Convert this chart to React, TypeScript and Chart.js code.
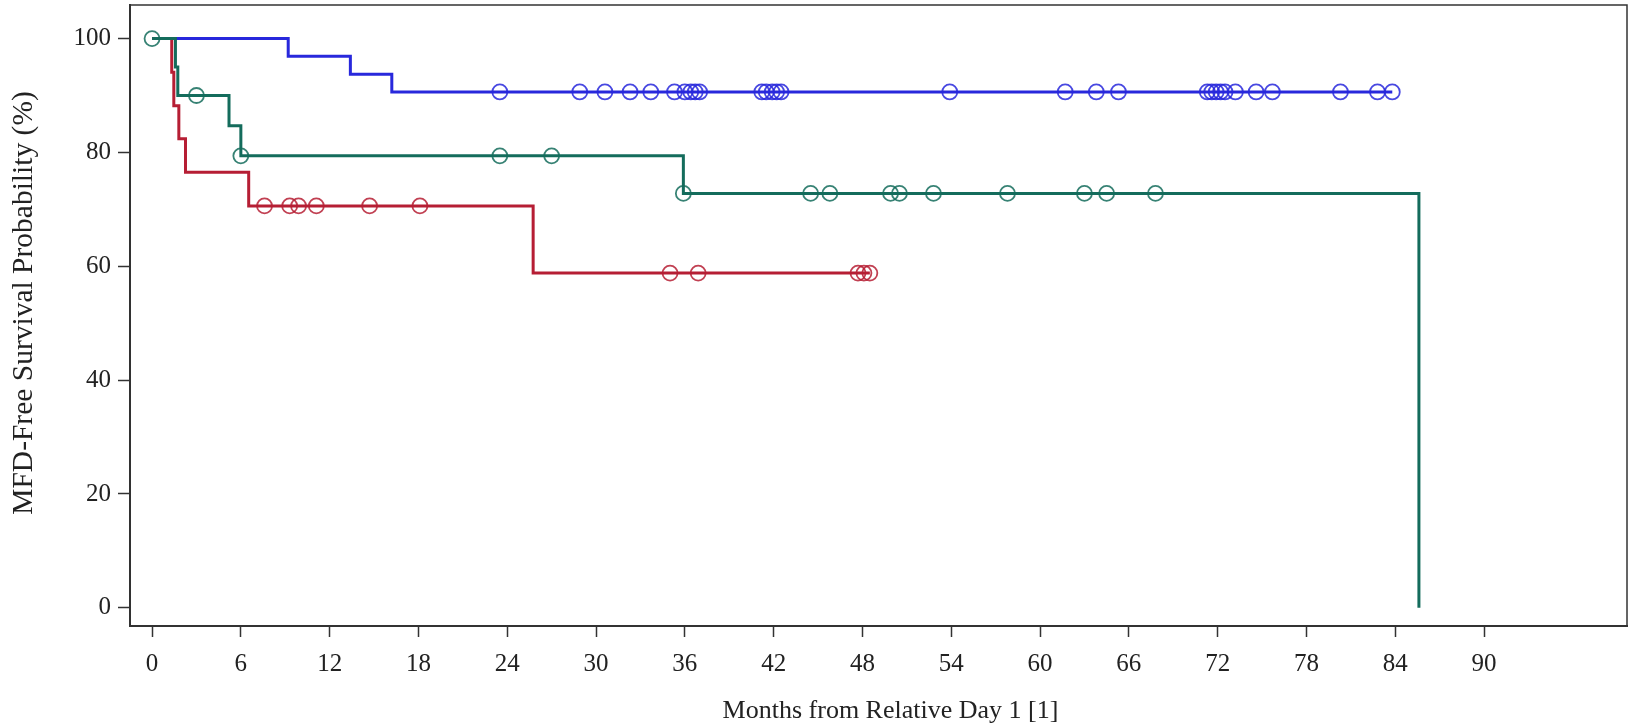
import React, { useEffect, useRef } from 'react';
import { Chart, registerables } from 'chart.js';

Chart.register(...registerables);

// Axis ticks
const xTickValues = [0, 6, 12, 18, 24, 30, 36, 42, 48, 54, 60, 66, 72, 78, 84, 90];
const yTickValues = [0, 20, 40, 60, 80, 100];
const xTitle = 'Months from Relative Day 1 [1]';
const yTitle = 'MFD-Free Survival Probability (%)';

// Blue group: step curve (time in months, survival %)
const blueStepTimes = [0, 9.2, 13.4, 16.2, 83.8];
const blueStepSurv = [100, 96.875, 93.75, 90.625, 90.625];
const blueCensorTimes = [
  23.5, 28.9, 30.6, 32.3, 33.7, 35.3, 36.0, 36.4, 36.7, 37.0,
  41.2, 41.5, 41.9, 42.2, 42.5, 53.9, 61.7, 63.8, 65.3,
  71.3, 71.6, 71.9, 72.2, 72.5, 73.2, 74.6, 75.7, 80.3, 82.8, 83.8,
];

// Red group
const redStepTimes = [0, 1.33, 1.47, 1.81, 2.26, 6.53, 25.75, 48.5];
const redStepSurv = [100, 94.1, 88.2, 82.4, 76.5, 70.6, 58.8, 58.8];
const redCensorTimes = [7.6, 9.3, 9.9, 11.1, 14.7, 18.1, 35.0, 36.9, 47.7, 48.1, 48.5];

// Green (teal) group
const greenStepTimes = [0, 1.58, 1.74, 5.2, 6.0, 35.9, 85.6];
const greenStepSurv = [100, 95, 90, 84.7, 79.4, 72.8, 0];
const greenCensorTimes = [0, 3.0, 6.0, 23.5, 27.0, 35.9, 44.5, 45.8, 49.9, 50.5, 52.8, 57.8, 63.0, 64.5, 67.8];

const BLUE = 'rgb(40,40,220)';
const RED = 'rgb(182,30,52)';
const GREEN = 'rgb(20,108,92)';
const BLUE_M = 'rgba(40,40,220,0.85)';
const RED_M = 'rgba(182,30,52,0.85)';
const GREEN_M = 'rgba(20,108,92,0.85)';

const FONT = "'Liberation Serif', 'Times New Roman', serif";

function stepPoints(times: number[], surv: number[]) {
  return times.map((t, i) => ({ x: t, y: surv[i] }));
}

function survAt(times: number[], surv: number[], t: number) {
  let v = surv[0];
  for (let i = 0; i < times.length; i++) {
    if (times[i] <= t + 1e-9) v = surv[i];
  }
  return v;
}

function censorPoints(times: number[], stepT: number[], stepS: number[]) {
  return times.map((t) => ({ x: t, y: survAt(stepT, stepS, t) }));
}

const framePlugin = {
  id: 'frame',
  beforeDatasetsDraw(chart: any) {
    const { ctx, chartArea: a } = chart;
    ctx.save();
    ctx.strokeStyle = '#333';
    ctx.lineWidth = 1.5;
    ctx.strokeRect(a.left, a.top, a.right - a.left, a.bottom - a.top);
    ctx.restore();
  },
  afterDraw(chart: any) {
    const { ctx, chartArea: a } = chart;
    ctx.save();
    ctx.fillStyle = '#222';
    ctx.textAlign = 'center';
    ctx.textBaseline = 'middle';
    ctx.font = `26px ${FONT}`;
    ctx.fillText(xTitle, (a.left + a.right) / 2 + 12, 711);
    ctx.translate(24, 303);
    ctx.rotate(-Math.PI / 2);
    ctx.font = `29.5px ${FONT}`;
    ctx.fillText(yTitle, 0, 0);
    ctx.restore();
  },
};

export default function App() {
  const ref = useRef<HTMLCanvasElement | null>(null);

  useEffect(() => {
    if (!ref.current) return;
    const lineDs = (label: string, data: any[], color: string) => ({
      type: 'line' as const,
      label,
      data,
      borderColor: color,
      backgroundColor: color,
      borderWidth: 3,
      pointRadius: 0,
      stepped: 'before' as const,
      fill: false,
      tension: 0,
    });
    const markDs = (label: string, data: any[], color: string) => ({
      type: 'scatter' as const,
      label,
      data,
      borderColor: color,
      backgroundColor: 'rgba(0,0,0,0)',
      borderWidth: 1.8,
      pointRadius: 7.5,
      pointStyle: 'circle',
      showLine: false,
    });

    const chart = new Chart(ref.current, {
      type: 'line',
      data: {
        datasets: [
          markDs('Green censored', censorPoints(greenCensorTimes, greenStepTimes, greenStepSurv), GREEN_M),
          lineDs('Green', stepPoints(greenStepTimes, greenStepSurv), GREEN),
          markDs('Red censored', censorPoints(redCensorTimes, redStepTimes, redStepSurv), RED_M),
          lineDs('Red', stepPoints(redStepTimes, redStepSurv), RED),
          markDs('Blue censored', censorPoints(blueCensorTimes, blueStepTimes, blueStepSurv), BLUE_M),
          lineDs('Blue', stepPoints(blueStepTimes, blueStepSurv), BLUE),
        ] as any,
      },
      options: {
        animation: false,
        responsive: true,
        maintainAspectRatio: false,
        layout: { autoPadding: false, padding: { top: 5, right: 5, left: 0, bottom: 0 } },
        plugins: {
          legend: { display: false },
          tooltip: { enabled: false },
        },
        scales: {
          x: {
            type: 'linear',
            min: -1.49,
            max: 99.66,
            afterBuildTicks: (scale: any) => {
              scale.ticks = xTickValues.map((v) => ({ value: v }));
            },
            afterFit: (scale: any) => {
              scale.height = 101;
              scale.paddingLeft = 0;
              scale.paddingRight = 0;
            },
            grid: {
              drawOnChartArea: false,
              drawTicks: true,
              tickLength: 11,
              tickWidth: 1.5,
              tickColor: '#333',
            },
            border: { display: true, color: '#333', width: 2 },
            ticks: {
              autoSkip: false,
              maxRotation: 0,
              padding: 12,
              color: '#222',
              font: { family: FONT, size: 25 },
            },
            title: { display: false, text: xTitle },
          },
          y: {
            type: 'linear',
            min: -3.2,
            max: 105.9,
            afterBuildTicks: (scale: any) => {
              scale.ticks = yTickValues.map((v) => ({ value: v }));
            },
            afterFit: (scale: any) => {
              scale.width = 130;
              scale.paddingTop = 0;
              scale.paddingBottom = 0;
            },
            grid: {
              drawOnChartArea: false,
              drawTicks: true,
              tickLength: 12,
              tickWidth: 1.5,
              tickColor: '#333',
            },
            border: { display: true, color: '#333', width: 2 },
            ticks: {
              padding: 7,
              color: '#222',
              font: { family: FONT, size: 25 },
            },
            title: { display: false, text: yTitle },
          },
        },
      },
      plugins: [framePlugin],
    });
    return () => chart.destroy();
  }, []);

  return (
    <div style={{ position: 'absolute', left: 0, top: 0, width: 1632, height: 727, background: '#fff' }}>
      <canvas ref={ref} />
    </div>
  );
}
